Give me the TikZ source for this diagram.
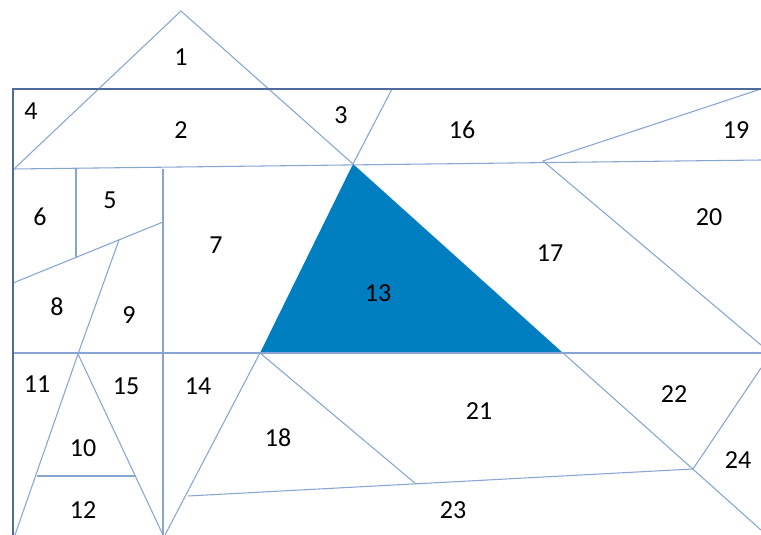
\documentclass[tikz,border=0pt]{standalone}
\usepackage{fontspec}
\setmainfont{Carlito}
\usetikzlibrary{calc}
\definecolor{framedark}{RGB}{79,107,155}
\definecolor{cutline}{RGB}{135,165,210}
\definecolor{pieceblue}{RGB}{0,127,192}

\begin{document}
\begin{tikzpicture}[x=0.75pt,y=-0.75pt,
    cut/.style={cutline,line width=0.8pt},
    lbl/.style={font=\fontsize{19.5}{20}\selectfont,inner sep=0pt}]
    \useasboundingbox (0,0) rectangle (761,535);
    % Puntos de la particion
    \coordinate (apex) at (181,11);
    \coordinate (hl) at (13,169);
    \coordinate (hr) at (761,160);
    \coordinate (tl) at (15,168);
    \coordinate (tt) at (353,164);
    \coordinate (t3) at (392,89);
    \coordinate (m19) at (543,161);
    \coordinate (bl) at (260,353);
    \coordinate (br) at (563,353);
    \coordinate (v10) at (78,354);
    \coordinate (k23) at (693,469);
    % Triangulo resaltado
    \fill[pieceblue] (tt) -- (bl) -- (br) -- cycle;
    % Cortes finos
    \draw[cut] (tl) -- (apex) -- (tt);
    \draw[cut] (hl) -- (hr);
    \draw[cut] (t3) -- (tt);
    \draw[cut] (761,89) -- (m19) -- (761,345);
    \draw[cut] (13,353) -- (761,353);
    \draw[cut] (163,169) -- (163,535);
    \draw[cut] (76,169) -- (76,258);
    \draw[cut] (13,283) -- (163,222);
    \draw[cut] (119,240) -- (v10);
    \draw[cut] (15,535) -- (v10) -- (163,535);
    \draw[cut] (37,476) -- (135,476);
    \draw[cut] (bl) -- (165,535);
    \draw[cut] (bl) -- (416,484);
    \draw[cut] (188,496) -- (k23);
    \draw[cut] (br) -- (761,530);
    \draw[cut] (k23) -- (761,368);
    % Marco
    \draw[framedark,line width=1.6pt] (13,535) -- (13,89) -- (761,89);
    % Numeros de las piezas
    \foreach \n/\x/\y in {1/181/57, 2/181/130, 3/341/115, 4/31/111,
        5/110/200, 6/40/217, 7/216/245, 8/57/307, 9/129/315,
        10/83/448, 11/37/384, 12/83/510, 13/378/293, 14/198/386,
        15/126/386, 16/462/130, 17/550/253, 18/278/438, 19/736/130,
        20/709/217, 21/479/411, 22/674/394, 23/453/510, 24/738/460}{
      \node[lbl] (p\n) at (\x,\y) {\n};
    }
  \end{tikzpicture}
\end{document}
